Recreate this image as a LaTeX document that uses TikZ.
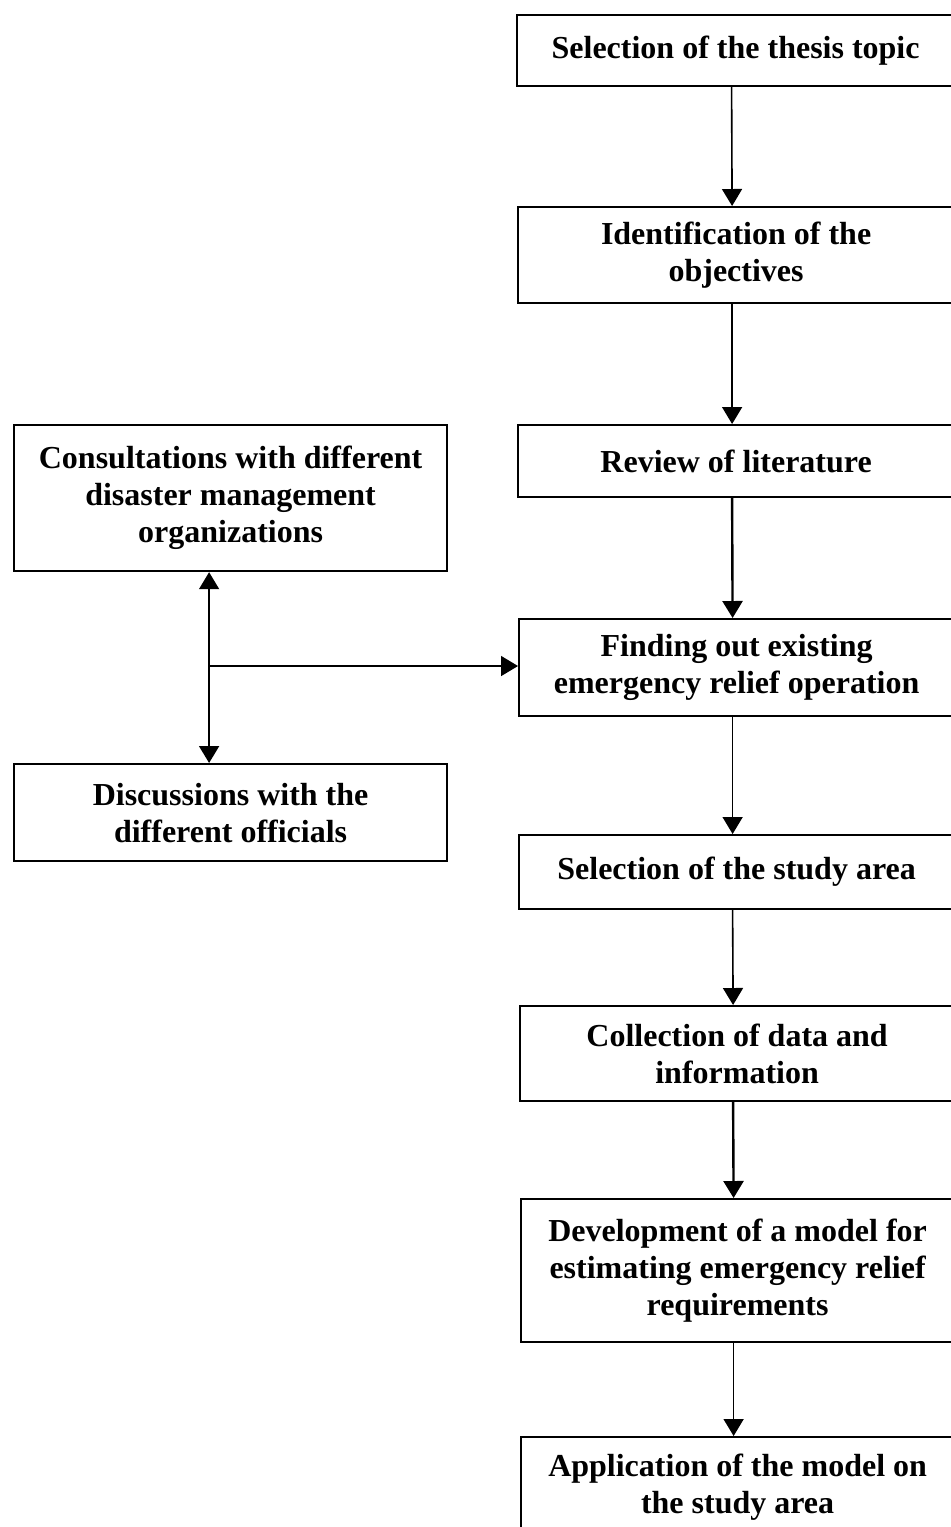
\documentclass[tikz,border=0pt]{standalone}
\usepackage{fontspec}
\setmainfont{Liberation Serif}
\usetikzlibrary{arrows.meta}
\begin{document}
\begin{tikzpicture}[x=1pt,y=-1pt,
  stepbox/.style={draw, line width=2.2pt, rectangle, anchor=north west,
    align=center, inner sep=0pt,
    font=\bfseries\fontsize{32}{37}\selectfont},
  arr/.style={line width=1.6pt, -{Triangle[length=17pt,width=20pt]}},
  arrthick/.style={arr, line width=2.4pt},
  biarr/.style={line width=1.6pt, {Triangle[length=17pt,width=20pt]}-{Triangle[length=17pt,width=20pt]}}]
  \clip (0,0) rectangle (951,1527);
  \fill[white] (0,0) rectangle (951,1527);

  % main column of steps
  \node[stepbox, minimum width=437pt, minimum height=71pt]  (b1) at (516,14)
    {Selection of the thesis topic};
  \node[stepbox, minimum width=436pt, minimum height=96pt]  (b2) at (517,206)
    {Identification of the\\objectives};
  \node[stepbox, minimum width=436pt, minimum height=72pt]  (b3) at (517,424)
    {Review of literature};
  \node[stepbox, minimum width=435pt, minimum height=97pt]  (b4) at (518,618)
    {Finding out existing\\emergency relief operation};
  \node[stepbox, minimum width=435pt, minimum height=74pt]  (b5) at (518,834)
    {Selection of the study area};
  \node[stepbox, minimum width=434pt, minimum height=95pt]  (b6) at (519,1005)
    {Collection of data and\\information};
  \node[stepbox, minimum width=433pt, minimum height=143pt] (b7) at (520,1198)
    {Development of a model for\\estimating emergency relief\\requirements};
  \node[stepbox, minimum width=433pt, minimum height=101pt] (b8) at (520,1436)
    {Application of the model on\\the study area};

  % side inputs
  \node[stepbox, minimum width=433pt, minimum height=146pt] (l1) at (13,424)
    {Consultations with different\\disaster management\\organizations};
  \node[stepbox, minimum width=433pt, minimum height=97pt]  (l2) at (13,763)
    {Discussions with the\\different officials};

  % connectors down the main column
  \draw[arr]      ([xshift=-4pt]b1.south) -- ([xshift=-4pt]b2.north);
  \draw[arr]      ([xshift=-4pt]b2.south) -- ([xshift=-4pt]b3.north);
  \draw[arrthick] ([xshift=-4pt]b3.south) -- ([xshift=-4pt]b4.north);
  \draw[arr]      ([xshift=-4pt]b4.south) -- ([xshift=-4pt]b5.north);
  \draw[arr]      ([xshift=-4pt]b5.south) -- ([xshift=-4pt]b6.north);
  \draw[arrthick] ([xshift=-4pt]b6.south) -- ([xshift=-4pt]b7.north);
  \draw[arr]      ([xshift=-4pt]b7.south) -- ([xshift=-4pt]b8.north);

  % side connectors
  \draw[biarr] ([xshift=-21.5pt]l1.south) -- ([xshift=-21.5pt]l2.north);
  \coordinate (j) at (208,666);
  \draw[arr] (j) -- (b4.west |- j);
\end{tikzpicture}
\end{document}
